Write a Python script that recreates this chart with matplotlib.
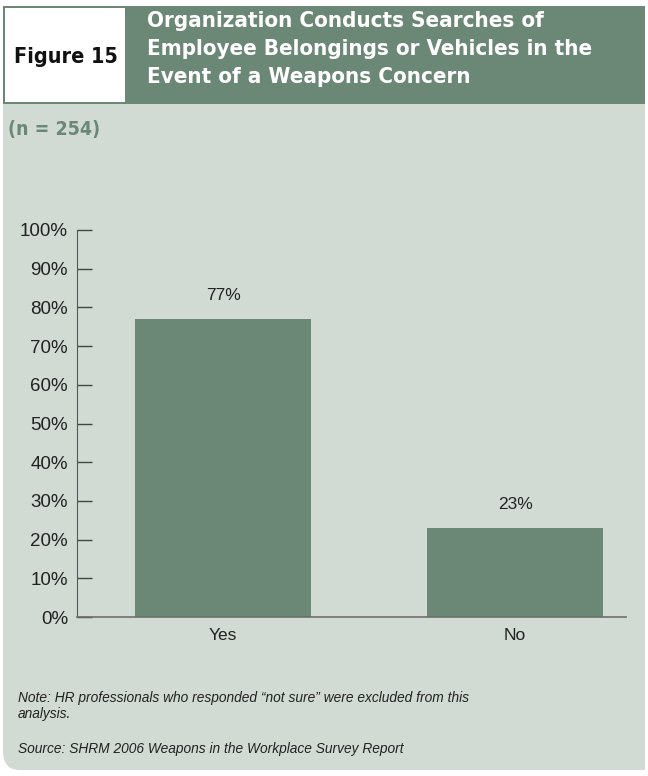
import matplotlib.pyplot as plt
from matplotlib.patches import Rectangle, FancyBboxPatch

categories = ['Yes', 'No']
percents = [77, 23]
yticks = [0, 10, 20, 30, 40, 50, 60, 70, 80, 90, 100]

title_lines = ['Organization Conducts Searches of',
               'Employee Belongings or Vehicles in the',
               'Event of a Weapons Concern']
note = 'Note: HR professionals who responded \u201cnot sure\u201d were excluded from this\nanalysis.'
source = 'Source: SHRM 2006 Weapons in the Workplace Survey Report'

dark_green = '#6b8877'
light_panel = '#d1dbd4'

W, H = 648, 776
fig = plt.figure(figsize=(W / 100, H / 100), dpi=100)
fig.patch.set_facecolor('white')


def fx(px):
    return px / W


def fy(py):
    return 1 - py / H


def band(x0, y0, x1, y1, color, z):
    fig.patches.append(Rectangle((fx(x0), fy(y1)), fx(x1) - fx(x0), fy(y0) - fy(y1),
                                 transform=fig.transFigure, facecolor=color,
                                 edgecolor='none', zorder=z))


# light panel, only the bottom-left corner stays rounded
fig.patches.append(FancyBboxPatch((fx(3), fy(770)), fx(642), fy(104) - fy(770),
                                  boxstyle='round,pad=0,rounding_size=0.025',
                                  transform=fig.transFigure, facecolor=light_panel,
                                  edgecolor='none', zorder=0))
band(40, 104, 645, 770, light_panel, 0)
band(3, 104, 645, 700, light_panel, 0)
# header band and the white figure-number box
band(3, 6, 645, 104, dark_green, 1)
band(5, 8, 125, 102, 'white', 2)

fig.text(fx(66), fy(57), 'Figure 15', fontsize=15.5, fontweight='bold', fontstretch='condensed',
         color='#111111', ha='center', va='center', zorder=3)
for i, line in enumerate(title_lines):
    fig.text(fx(147), fy(21 + 28 * i), line, fontsize=16, fontweight='bold', fontstretch='condensed',
             color='white', ha='left', va='center', zorder=3)
fig.text(fx(8), fy(129), '(n = 254)', fontsize=14, fontweight='bold', fontstretch='condensed',
         color=dark_green, ha='left', va='center')

ax = fig.add_axes([fx(77), fy(617), fx(626) - fx(77), fy(230) - fy(617)])
ax.set_zorder(5)
ax.set_facecolor('none')
x = range(len(categories))
bars = ax.bar(x, percents, width=0.603, color=dark_green, zorder=2)
for b, v in zip(bars, percents):
    ax.text(b.get_x() + b.get_width() / 2, v + 4.2, f'{v}%', ha='center', va='bottom',
            fontsize=12.5, family='Liberation Sans', color='#222222')

ax.set_xlim(-0.5, 1.38)
ax.set_ylim(0, 100)
ax.set_yticks(yticks)
ax.set_yticklabels([f'{t}%' for t in yticks], fontsize=13.5, family='Liberation Sans', color='#222222')
ax.set_xticks(list(x))
ax.set_xticklabels(categories, fontsize=12.5, family='Liberation Sans', color='#222222')
ax.tick_params(axis='y', direction='in', length=10.5, width=1, color='#444444', pad=6.5)
ax.tick_params(axis='x', length=0, pad=8)
for s in ['top', 'right']:
    ax.spines[s].set_visible(False)
ax.spines['left'].set_color('#555555')
ax.spines['bottom'].set_color('#6e6e6e')
ax.spines['bottom'].set_linewidth(1.2)

fig.text(fx(18), fy(706), note, fontsize=9.9, style='italic', family='Liberation Sans',
         color='#222222', ha='left', va='center', linespacing=1.25)
fig.text(fx(18), fy(749), source, fontsize=9.9, style='italic', family='Liberation Sans',
         color='#222222', ha='left', va='center')

fig.savefig('out.png', dpi=100)
